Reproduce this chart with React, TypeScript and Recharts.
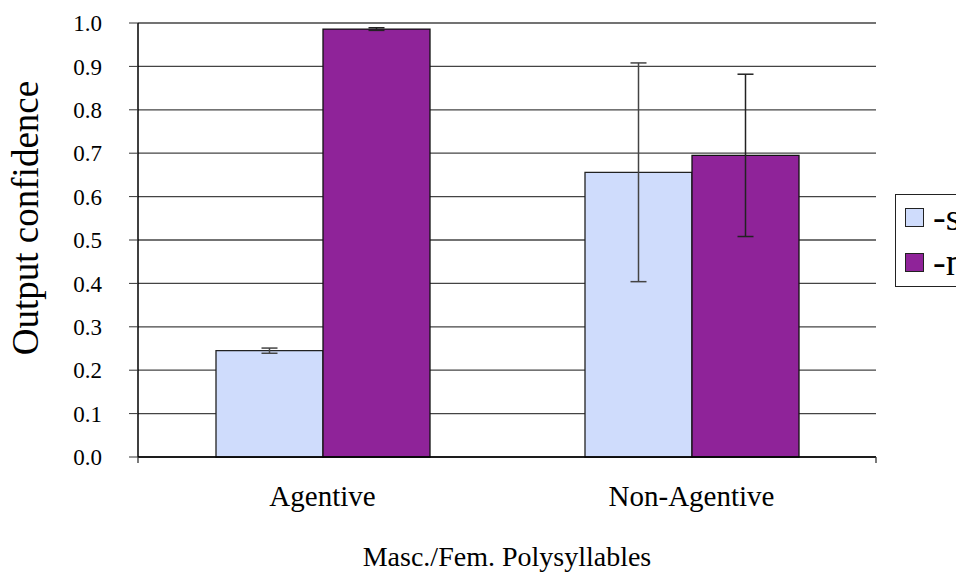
import React from 'react';
import { BarChart, Bar, XAxis, YAxis, CartesianGrid, ErrorBar, Legend } from 'recharts';

// categories and series
const categories = ['Agentive', 'Non-Agentive'];
const sValues = [0.245, 0.656];
const sErrors = [0.006, 0.252];
const nValues = [0.986, 0.695];
const nErrors = [0.003, 0.187];
const yTicks = [0, 0.1, 0.2, 0.3, 0.4, 0.5, 0.6, 0.7, 0.8, 0.9, 1.0];
const edgeTicks = [0, 1, 2];

const seriesNames = ['-s', '-n'];
const seriesColors = ['#cfdcfc', '#8f2399'];

const data = categories.map((c, i) => ({
  name: c,
  s: sValues[i],
  sErr: sErrors[i],
  n: nValues[i],
  nErr: nErrors[i]
}));

const FONT = '"Liberation Serif", "DejaVu Serif", serif';

const LegendBox = () => (
  <div style={{
    border: '1px solid #222',
    width: 110,
    height: 91,
    background: '#fff',
    fontFamily: FONT
  }}>
    {seriesNames.map((name, i) => (
      <div key={name} style={{ position: 'absolute', left: 10, top: 14 + i * 45, display: 'flex', alignItems: 'center' }}>
        <span style={{
          display: 'inline-block',
          width: 17,
          height: 17,
          background: seriesColors[i],
          border: '1px solid #222'
        }} />
        <span style={{ marginLeft: 9, fontSize: 38, lineHeight: '19px', color: '#000' }}>{name}</span>
      </div>
    ))}
  </div>
);

// rotated y-axis title, centred the way the reference has it
const YTitle = (props: any) => {
  const { viewBox } = props;
  const cx = 25;
  const cy = viewBox.y + viewBox.height / 2 - 22;
  return (
    <text x={cx} y={cy} transform={`rotate(-90, ${cx}, ${cy})`} textAnchor="middle" dominantBaseline="central"
      fontSize={37} fill="#000" fontFamily={FONT}>
      Output confidence
    </text>
  );
};

// boundary ticks only need the tick line, no label
const NoLabel = () => <g />;

export default function App() {
  return (
    <div style={{ position: 'fixed', left: 0, top: 0, width: 956, height: 579, overflow: 'hidden', background: '#fff', fontFamily: FONT }}>
      <BarChart
        width={956}
        height={579}
        data={data}
        barGap={0}
        margin={{ top: 23, right: 80, bottom: 0, left: 0 }}
      >
        <CartesianGrid vertical={false} stroke="#444" strokeWidth={1.3} yAxisId="left" xAxisId="b_cat" />
        <XAxis
          xAxisId="a_edge"
          type="number"
          domain={[0, 2]}
          ticks={edgeTicks}
          interval={0}
          tick={NoLabel}
          tickSize={6}
          height={10}
          axisLine={{ stroke: '#000', strokeWidth: 1.5 }}
          tickLine={{ stroke: '#333', strokeWidth: 1.3 }}
        />
        <XAxis
          xAxisId="b_cat"
          dataKey="name"
          height={112}
          axisLine={false}
          tickLine={false}
          tickSize={0}
          tickMargin={18}
          tick={{ fill: '#000', fontSize: 29 }}
          label={{ value: 'Masc./Fem. Polysyllables', position: 'insideBottom', offset: 13, fill: '#000', fontSize: 28 }}
        />
        <YAxis
          yAxisId="left"
          width={138}
          domain={[0, 1]}
          ticks={yTicks}
          interval={0}
          tickFormatter={(v: number) => v.toFixed(1)}
          tickSize={9}
          tickMargin={27}
          axisLine={{ stroke: '#000', strokeWidth: 1.5 }}
          tickLine={{ stroke: '#333' }}
          tick={{ fill: '#000', fontSize: 23 }}
          label={<YTitle />}
        />
        <YAxis
          yAxisId="right"
          orientation="right"
          width={0}
          domain={[0, 1]}
          tick={false}
          tickLine={false}
          axisLine={{ stroke: '#666' }}
        />
        <Legend
          layout="horizontal"
          verticalAlign="middle"
          content={() => <LegendBox />}
          wrapperStyle={{ position: 'absolute', left: 895, top: 194, width: 112 }}
        />
        <Bar
          xAxisId="b_cat"
          yAxisId="left"
          dataKey="s"
          name={seriesNames[0]}
          fill={seriesColors[0]}
          stroke="#222"
          strokeWidth={1.3}
          barSize={107}
          isAnimationActive={false}
        >
          <ErrorBar dataKey="sErr" width={8} stroke="#444" strokeWidth={1.5} />
        </Bar>
        <Bar
          xAxisId="b_cat"
          yAxisId="left"
          dataKey="n"
          name={seriesNames[1]}
          fill={seriesColors[1]}
          stroke="#111"
          strokeWidth={1.3}
          barSize={107}
          isAnimationActive={false}
        >
          <ErrorBar dataKey="nErr" width={8} stroke="#222" strokeWidth={1.5} />
        </Bar>
      </BarChart>
    </div>
  );
}
